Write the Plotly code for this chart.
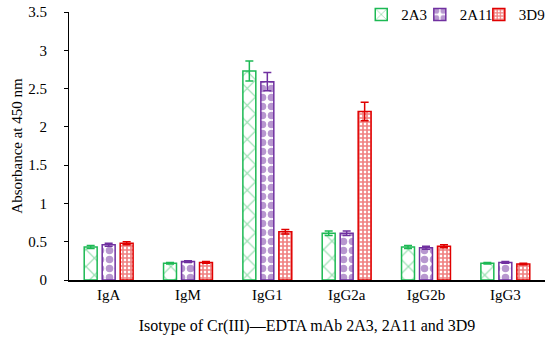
import plotly.graph_objects as go

categories = ["IgA", "IgM", "IgG1", "IgG2a", "IgG2b", "IgG3"]
series_names = ["2A3", "2A11", "3D9"]
vals_2A3 = [0.43, 0.22, 2.73, 0.61, 0.43, 0.22]
vals_2A11 = [0.46, 0.24, 2.59, 0.61, 0.42, 0.23]
vals_3D9 = [0.48, 0.23, 0.63, 2.20, 0.44, 0.21]
err_2A3 = [0.02, 0.01, 0.13, 0.03, 0.02, 0.01]
err_2A11 = [0.02, 0.01, 0.12, 0.03, 0.02, 0.01]
err_3D9 = [0.02, 0.01, 0.03, 0.12, 0.02, 0.01]

colors = ["#1db954", "#7030a0", "#e00000"]
patterns = [dict(shape="x", size=12, solidity=0.18),
            dict(shape=".", size=9, solidity=0.55),
            dict(shape="+", size=4, solidity=0.65)]
legend_ids = ["legend", "legend2", "legend3"]
legend_x = [0.614, 0.737, 0.861]

font = "Liberation Serif"
fig = go.Figure()
for name, vals, errs, c, p, lg in zip(series_names, [vals_2A3, vals_2A11, vals_3D9],
                                       [err_2A3, err_2A11, err_3D9], colors, patterns, legend_ids):
    fig.add_trace(go.Bar(
        x=categories, y=vals, name=name, legend=lg,
        marker=dict(color="white", line=dict(color=c, width=1.5),
                    pattern=dict(fgcolor=c, bgcolor="white", fillmode="overlay", **p)),
        error_y=dict(type="data", array=errs, visible=True, color=c, thickness=1.5, width=4),
    ))

legend_common = dict(orientation="h", xanchor="left", y=0.99, yanchor="middle",
                     font=dict(family=font, size=15), bgcolor="rgba(0,0,0,0)")
fig.update_layout(
    width=550, height=345,
    margin=dict(l=69, r=5, t=12, b=64.5, autoexpand=False),
    paper_bgcolor="white", plot_bgcolor="white",
    barmode="group", bargap=0.32, bargroupgap=0.28,
    font=dict(family=font, size=15, color="black"),
    showlegend=True,
    legend=dict(x=legend_x[0], **legend_common),
    legend2=dict(x=legend_x[1], **legend_common),
    legend3=dict(x=legend_x[2], **legend_common),
    xaxis=dict(showline=True, linecolor="black", linewidth=1.5, ticks="",
               tickfont=dict(family=font, size=15), automargin=False,
               title=dict(text="Isotype of Cr(III)\u2014EDTA mAb 2A3, 2A11 and 3D9",
                          font=dict(family=font, size=16), standoff=18)),
    yaxis=dict(range=[0, 3.5], dtick=0.5, showline=True, linecolor="black", linewidth=1,
               ticks="outside", ticklen=4, tickcolor="black", showgrid=False, zeroline=False,
               tickformat="~g", ticklabelstandoff=14, automargin=False,
               tickfont=dict(family=font, size=15),
               title=dict(text="Absorbance at 450 nm", font=dict(family=font, size=15), standoff=2)),
)
fig.write_html("out.html", config={"displayModeBar": False},
               post_script="document.body.style.margin='0';document.body.style.padding='0';")
